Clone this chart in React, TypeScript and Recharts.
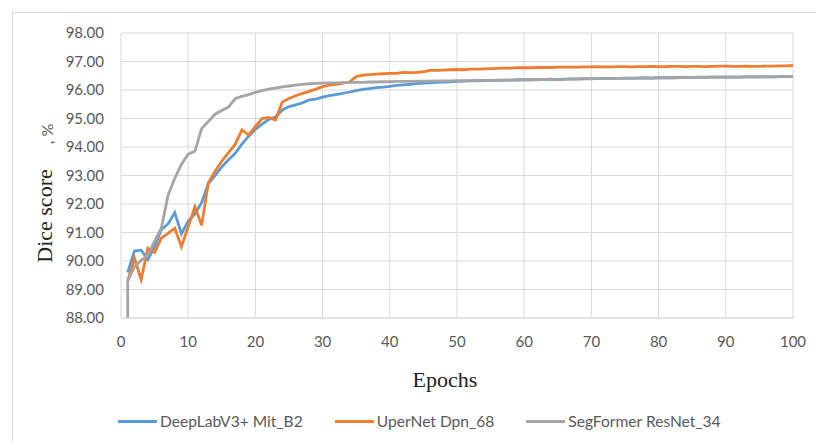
import React from "react";
import { LineChart, Line, XAxis, YAxis, CartesianGrid } from "recharts";

const epochs = [
  1, 2, 3, 4, 5, 6, 7, 8, 9, 10,
  11, 12, 13, 14, 15, 16, 17, 18, 19, 20,
  21, 22, 23, 24, 25, 26, 27, 28, 29, 30,
  31, 32, 33, 34, 35, 36, 37, 38, 39, 40,
  41, 42, 43, 44, 45, 46, 47, 48, 49, 50,
  51, 52, 53, 54, 55, 56, 57, 58, 59, 60,
  61, 62, 63, 64, 65, 66, 67, 68, 69, 70,
  71, 72, 73, 74, 75, 76, 77, 78, 79, 80,
  81, 82, 83, 84, 85, 86, 87, 88, 89, 90,
  91, 92, 93, 94, 95, 96, 97, 98, 99, 100,
];

const deepLab = [
  89.6, 90.35, 90.38, 90.05, 90.5, 91.1, 91.3, 91.7, 90.95, 91.4,
  91.65, 92.05, 92.72, 93.0, 93.3, 93.55, 93.78, 94.1, 94.38, 94.62,
  94.8, 94.97, 95.05, 95.3, 95.42, 95.48, 95.55, 95.65, 95.68, 95.75,
  95.8, 95.84, 95.88, 95.93, 95.98, 96.02, 96.05, 96.08, 96.1, 96.13,
  96.16, 96.18, 96.2, 96.22, 96.24, 96.25, 96.27, 96.28, 96.29, 96.3,
  96.31, 96.32, 96.32, 96.33, 96.34, 96.34, 96.35, 96.35, 96.36, 96.36,
  96.36, 96.37, 96.37, 96.38, 96.37, 96.38, 96.39, 96.39, 96.4, 96.4,
  96.4, 96.41, 96.41, 96.41, 96.42, 96.42, 96.42, 96.43, 96.42, 96.43,
  96.43, 96.43, 96.44, 96.44, 96.44, 96.45, 96.44, 96.45, 96.45, 96.45,
  96.46, 96.45, 96.46, 96.46, 96.46, 96.47, 96.46, 96.47, 96.47, 96.47,
];

const uperNet = [
  89.3, 90.1, 89.35, 90.45, 90.3, 90.8, 90.97, 91.15, 90.5, 91.2,
  91.9, 91.25, 92.75, 93.15, 93.5, 93.8, 94.1, 94.6, 94.42, 94.72,
  95.0, 95.04, 94.95, 95.58, 95.7, 95.8, 95.88, 95.95, 96.03, 96.12,
  96.17, 96.2, 96.24, 96.28, 96.47, 96.52, 96.54, 96.56, 96.57, 96.58,
  96.58, 96.62, 96.61, 96.62, 96.64, 96.69, 96.69, 96.7, 96.71, 96.72,
  96.71, 96.73, 96.73, 96.74, 96.75, 96.76, 96.77, 96.77, 96.78, 96.78,
  96.78, 96.79, 96.79, 96.79, 96.8, 96.8, 96.8, 96.8, 96.81, 96.81,
  96.82, 96.81, 96.81, 96.82, 96.82, 96.81, 96.82, 96.82, 96.83, 96.82,
  96.82, 96.83, 96.83, 96.82, 96.83, 96.83, 96.82, 96.83, 96.84, 96.84,
  96.83, 96.83, 96.84, 96.83, 96.83, 96.84, 96.84, 96.85, 96.85, 96.86,
];

// first SegFormer reading sits on the axis floor before the jump at epoch 1
const segFormerStart = 88.0;
const segFormer = [
  89.3, 89.8, 90.02, 90.2, 90.7, 91.15, 92.3, 92.9, 93.4, 93.75,
  93.85, 94.65, 94.9, 95.15, 95.28, 95.4, 95.7, 95.78, 95.84, 95.92,
  95.98, 96.03, 96.07, 96.11, 96.14, 96.17, 96.2, 96.22, 96.23, 96.24,
  96.25, 96.25, 96.26, 96.26, 96.27, 96.27, 96.28, 96.28, 96.29, 96.29,
  96.3, 96.3, 96.3, 96.31, 96.31, 96.31, 96.32, 96.32, 96.32, 96.33,
  96.33, 96.33, 96.34, 96.34, 96.34, 96.35, 96.35, 96.35, 96.35, 96.36,
  96.36, 96.36, 96.37, 96.37, 96.36, 96.37, 96.38, 96.38, 96.39, 96.39,
  96.4, 96.4, 96.4, 96.41, 96.41, 96.41, 96.42, 96.42, 96.42, 96.43,
  96.43, 96.43, 96.43, 96.44, 96.44, 96.44, 96.45, 96.45, 96.45, 96.45,
  96.45, 96.45, 96.46, 96.46, 96.46, 96.46, 96.46, 96.47, 96.47, 96.47,
];

const xTicks = [0, 10, 20, 30, 40, 50, 60, 70, 80, 90, 100];
const yTicks = [88, 89, 90, 91, 92, 93, 94, 95, 96, 97, 98];

const SERIES = [
  { key: "deepLab", name: "DeepLabV3+ Mit_B2", color: "#5B9BD5" },
  { key: "uperNet", name: "UperNet Dpn_68", color: "#ED7D31" },
  { key: "segFormer", name: "SegFormer ResNet_34", color: "#A5A5A5" },
];

const data = [
  { epoch: epochs[0], segFormer: segFormerStart },
  ...epochs.map((e, i) => ({
    epoch: e,
    deepLab: deepLab[i],
    uperNet: uperNet[i],
    segFormer: segFormer[i],
  })),
];

const TICK_FONT = "Lato, 'Open Sans', sans-serif";
const TITLE_FONT = "'Liberation Serif', 'Times New Roman', serif";

export default function App() {
  return (
    <div style={{ position: "fixed", left: 0, top: 0, width: 816, height: 441, overflow: "hidden", background: "#fff" }}>
      <div style={{ position: "absolute", left: 12, top: 12, width: 900, height: 500, border: "1px solid #d9d9d9" }} />
      <div style={{ position: "absolute", left: 0, top: 0 }}>
        <LineChart width={816} height={441} data={data} margin={{ top: 33, right: 23, bottom: 93, left: 0 }}>
          <CartesianGrid stroke="#d9d9d9" strokeWidth={1} horizontalValues={yTicks} verticalValues={xTicks} />
          <XAxis
            dataKey="epoch"
            type="number"
            domain={[0, 100]}
            ticks={xTicks}
            height={30}
            axisLine={{ stroke: "#d9d9d9" }}
            tickLine={false}
            tickMargin={12}
            tick={{ fill: "#595959", fontSize: 15, fontFamily: TICK_FONT }}
            label={() => (
              <text x={445} y={386.5} textAnchor="middle" fontFamily={TITLE_FONT} fontSize={22} fill="#222">
                Epochs
              </text>
            )}
          />
          <YAxis
            type="number"
            width={121}
            domain={[88, 98]}
            ticks={yTicks}
            axisLine={false}
            tickLine={false}
            tickMargin={11}
            tickFormatter={(v: number) => v.toFixed(2)}
            tick={{ fill: "#595959", fontSize: 15, fontFamily: TICK_FONT }}
            label={() => (
              <g>
                <text transform="translate(52,216) rotate(-90)" textAnchor="middle" fontFamily={TITLE_FONT} fontSize={22} fill="#222">
                  Dice score
                </text>
                <text transform="translate(53,134) rotate(-90)" textAnchor="middle" fontFamily={TICK_FONT} fontSize={16} fill="#595959">
                  , %
                </text>
              </g>
            )}
          />
          {SERIES.map((s) => (
            <Line
              key={s.key}
              type="linear"
              dataKey={s.key}
              name={s.name}
              stroke={s.color}
              strokeWidth={2.8}
              dot={false}
              isAnimationActive={false}
            />
          ))}
        </LineChart>
      </div>
      <div
        style={{
          position: "absolute",
          left: 118,
          top: 411,
          display: "flex",
          alignItems: "center",
          gap: 32,
          fontFamily: TICK_FONT,
          fontSize: 15.6,
          color: "#595959",
          lineHeight: "20px",
          whiteSpace: "nowrap",
        }}
      >
        {SERIES.map((s) => (
          <div key={s.key} style={{ display: "flex", alignItems: "center" }}>
            <span style={{ display: "inline-block", width: 39, height: 3, background: s.color, marginRight: 3 }} />
            <span>{s.name}</span>
          </div>
        ))}
      </div>
    </div>
  );
}
